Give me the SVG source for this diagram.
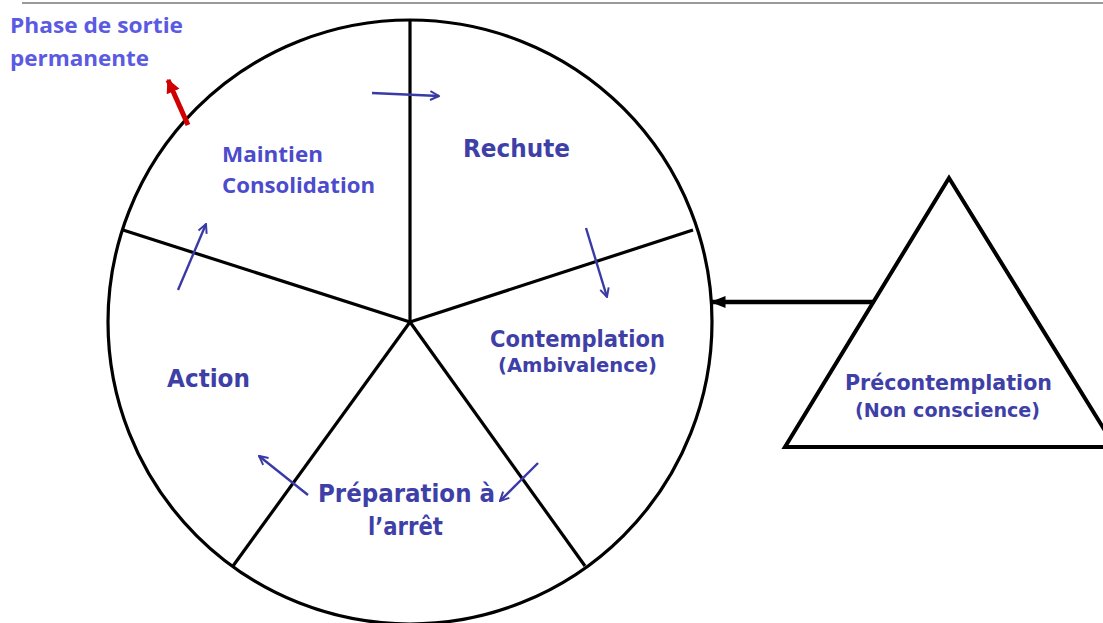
<svg xmlns="http://www.w3.org/2000/svg" width="1103" height="623" viewBox="0 0 1103 623">
<defs>
<style>
.g{font-family:"DejaVu Sans","Liberation Sans",sans-serif;font-weight:bold;fill:#3f3fa8}
.c{font-family:"Open Sans","Liberation Sans",sans-serif;font-weight:bold;fill:#4b4bcc}
.ln{stroke:#000;stroke-width:3.2;fill:none}
.ba{stroke:#3a3aa6;stroke-width:2.4;fill:none}
</style>
<marker id="open" viewBox="0 0 10 10" refX="9" refY="5" markerWidth="11" markerHeight="11" orient="auto" markerUnits="userSpaceOnUse">
<path d="M1,1 L9,5 L1,9" fill="none" stroke="#3a3aa6" stroke-width="1.8"/>
</marker>
<marker id="blk" viewBox="0 0 10 10" refX="9" refY="5" markerWidth="15" markerHeight="15" orient="auto" markerUnits="userSpaceOnUse">
<path d="M0,1 L10,5 L0,9 z" fill="#000"/>
</marker>
<marker id="red" viewBox="0 0 10 10" refX="9" refY="5" markerWidth="14" markerHeight="18" orient="auto" markerUnits="userSpaceOnUse">
<path d="M0,0 L10,5 L0,10 z" fill="#d00000"/>
</marker>
</defs>
<rect width="1103" height="623" fill="#fff"/>
<line x1="22" y1="3" x2="1103" y2="3" stroke="#9a9a9a" stroke-width="2"/>
<g id="wheel">
<circle cx="410" cy="322" r="302" class="ln"/>
<line x1="410" y1="20" x2="410" y2="322" class="ln"/>
<line x1="693" y1="230" x2="410" y2="322" class="ln"/>
<line x1="585" y1="566" x2="410" y2="322" class="ln"/>
<line x1="233" y1="566" x2="410" y2="322" class="ln"/>
<line x1="123" y1="230" x2="410" y2="322" class="ln"/>
</g>
<g id="triangle">
<polygon points="949,178 785,447 1115,447" class="ln" style="stroke-width:4"/>
</g>
<g id="connectors">
<line x1="873" y1="302" x2="712" y2="302" stroke="#000" stroke-width="4.5" marker-end="url(#blk)"/>
<line x1="188" y1="125" x2="168" y2="80" stroke="#d00000" stroke-width="5" marker-end="url(#red)"/>
<line x1="372" y1="93" x2="439" y2="96" class="ba" marker-end="url(#open)"/>
<line x1="586" y1="228" x2="607" y2="297" class="ba" marker-end="url(#open)"/>
<line x1="538" y1="463" x2="500" y2="501" class="ba" marker-end="url(#open)"/>
<line x1="308" y1="495" x2="259" y2="456" class="ba" marker-end="url(#open)"/>
<line x1="178" y1="290" x2="206" y2="224" class="ba" marker-end="url(#open)"/>
</g>
<g id="phase">
<text class="c" x="10" y="33" font-size="22" style="fill:#5a5ae2" textLength="173" lengthAdjust="spacingAndGlyphs">Phase de sortie</text>
<text class="c" x="10" y="66" font-size="22" style="fill:#5a5ae2" textLength="139" lengthAdjust="spacingAndGlyphs">permanente</text>
</g>
<g id="maintien">
<text class="c" x="222" y="162" font-size="22" textLength="101" lengthAdjust="spacingAndGlyphs">Maintien</text>
<text class="c" x="222" y="193" font-size="22" textLength="153" lengthAdjust="spacingAndGlyphs">Consolidation</text>
</g>
<g id="rechute">
<text class="g" x="463" y="157" font-size="24" textLength="107" lengthAdjust="spacingAndGlyphs">Rechute</text>
</g>
<g id="contemplation">
<text class="g" x="490" y="347" font-size="23" textLength="175" lengthAdjust="spacingAndGlyphs">Contemplation</text>
<text class="g" x="498" y="372" font-size="19" textLength="159" lengthAdjust="spacingAndGlyphs">(Ambivalence)</text>
</g>
<g id="preparation">
<text class="g" x="318" y="502" font-size="24" textLength="177" lengthAdjust="spacingAndGlyphs">Préparation à</text>
<text class="g" x="368" y="535" font-size="24" textLength="75" lengthAdjust="spacingAndGlyphs">l’arrêt</text>
</g>
<g id="action">
<text class="g" x="167" y="387" font-size="24" textLength="83" lengthAdjust="spacingAndGlyphs">Action</text>
</g>
<g id="precontemplation">
<text class="g" x="845" y="390" font-size="22" textLength="207" lengthAdjust="spacingAndGlyphs">Précontemplation</text>
<text class="g" x="855" y="417" font-size="19" textLength="185" lengthAdjust="spacingAndGlyphs">(Non conscience)</text>
</g>
</svg>
